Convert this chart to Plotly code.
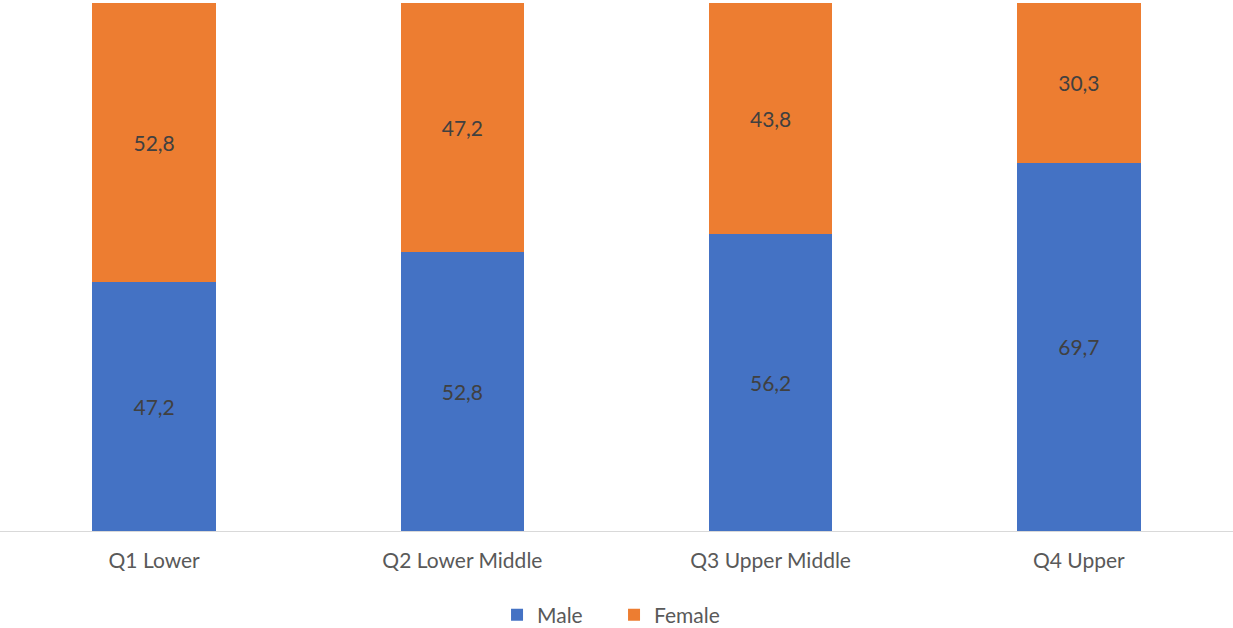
import plotly.graph_objects as go

categories = ["Q1 Lower", "Q2 Lower Middle", "Q3 Upper Middle", "Q4 Upper"]
male = [47.2, 52.8, 56.2, 69.7]
female = [52.8, 47.2, 43.8, 30.3]

def fmt(v):
    return f"{v:.1f}".replace(".", ",")

FONT = "Lato, 'Open Sans', sans-serif"
FS = 21

fig = go.Figure()
fig.add_trace(go.Bar(
    name="Male", x=categories, y=male, marker_color="#4472C4",
    text=[fmt(v) for v in male], textposition="inside", insidetextanchor="middle",
    textfont=dict(color="#404040", size=FS, family=FONT),
))
fig.add_trace(go.Bar(
    name="Female", x=categories, y=female, marker_color="#ED7D31",
    text=[fmt(v) for v in female], textposition="inside", insidetextanchor="middle",
    textfont=dict(color="#404040", size=FS, family=FONT),
))
fig.update_traces(marker_line_width=0, hoverinfo="skip")
fig.update_layout(
    barmode="stack",
    bargap=0.6,
    width=1233, height=628,
    margin=dict(l=0, r=0, t=3, b=97, autoexpand=False),
    plot_bgcolor="white", paper_bgcolor="white",
    font=dict(family=FONT, color="#595959", size=FS),
    legend=dict(orientation="h", x=0.498, xanchor="center", yref="container",
                y=(628 - 615) / 628, yanchor="middle", entrywidth=72,
                font=dict(size=FS, color="#595959"), itemwidth=30, traceorder="normal"),
    showlegend=True,
)
fig.update_xaxes(showline=True, linecolor="#D9D9D9", linewidth=1, ticks="",
                 ticklabelstandoff=11, tickfont=dict(size=FS, color="#595959"),
                 range=[-0.5, 3.5], automargin=False)
fig.update_yaxes(range=[0, 100], showgrid=False, showticklabels=False, zeroline=False,
                 automargin=False)
fig.write_html("out.html")
